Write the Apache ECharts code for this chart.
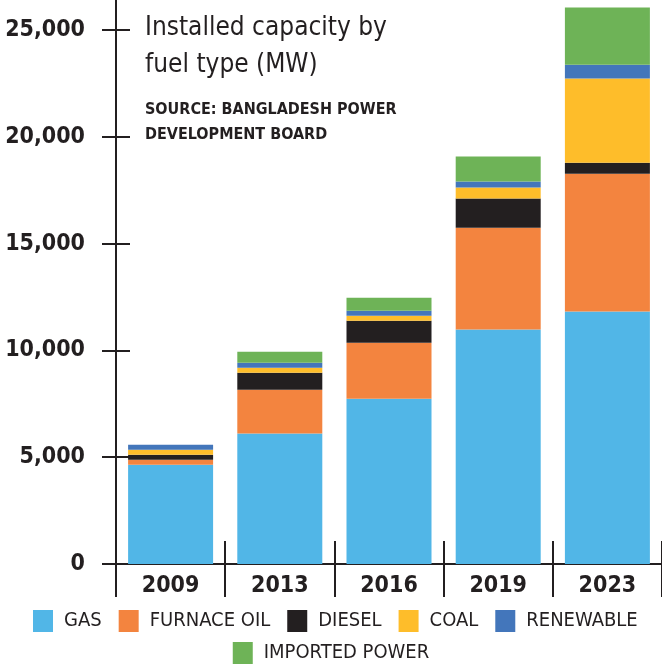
<!DOCTYPE html>
<html>
<head>
<meta charset="utf-8">
<script src="https://cdn.jsdelivr.net/npm/echarts@6/dist/echarts.min.js"></script>
<style>
  html, body { margin: 0; padding: 0; background: #fff; }
  #chart { width: 662px; height: 669px; }
</style>
</head>
<body>
<div id="chart"></div>
<script>
// installed capacity by fuel type, MW
const years = ['2009', '2013', '2016', '2019', '2023'];
const gas = [4640, 6110, 7730, 10980, 11820];
const furnaceOil = [235, 2050, 2625, 4765, 6450];
const diesel = [235, 795, 1030, 1360, 515];
const coal = [235, 235, 235, 515, 3935];
const renewable = [235, 235, 235, 280, 655];
const imported = [0, 515, 610, 1170, 2670];
const yTicks = [0, 5000, 10000, 15000, 20000, 25000];

// no narrow Liberation here, condensed DejaVu is the closest thing
const FONT = "'DejaVu Sans Condensed', 'Liberation Sans Narrow', 'Liberation Sans', sans-serif";
const INK = '#231f20';

const fuels = [
  { name: 'GAS', data: gas, color: '#51b6e7' },
  { name: 'FURNACE OIL', data: furnaceOil, color: '#f3843f' },
  { name: 'DIESEL', data: diesel, color: '#231f20' },
  { name: 'COAL', data: coal, color: '#febd2a' },
  { name: 'RENEWABLE', data: renewable, color: '#4376bb' },
  { name: 'IMPORTED POWER', data: imported, color: '#6eb357' }
];

const chart = echarts.init(document.getElementById('chart'));

const legendBase = {
  icon: 'rect',
  itemWidth: 20,
  itemHeight: 22,
  itemGap: 17,
  padding: 0,
  selectedMode: false,
  textStyle: { fontFamily: FONT, fontSize: 20, color: INK, padding: [0, 0, 0, 6] }
};

const option = {
  animation: false,
  backgroundColor: '#fff',
  title: [
    {
      text: 'Installed capacity by\nfuel type (MW)',
      left: 145, top: 10, padding: 0,
      textStyle: { fontFamily: FONT, fontSize: 26, fontWeight: 'normal', color: INK, lineHeight: 37 }
    },
    {
      text: 'SOURCE: BANGLADESH POWER\nDEVELOPMENT BOARD',
      left: 145, top: 97, padding: 0,
      textStyle: { fontFamily: FONT, fontSize: 16, fontWeight: 'bold', color: INK, lineHeight: 25 }
    }
  ],
  // two legends so the second row sits centred on its own
  legend: [
    Object.assign({}, legendBase, { left: 33, top: 610, data: fuels.slice(0, 5).map(f => f.name) }),
    Object.assign({}, legendBase, { left: 'center', top: 642, data: [fuels[5].name] })
  ],
  grid: { left: 116, right: 0, top: 0, bottom: 105, outerBoundsMode: 'none' },
  xAxis: [
    {
      type: 'category',
      data: years,
      axisLine: { lineStyle: { color: INK, width: 2 } },
      axisTick: { show: true, length: 33, lineStyle: { color: INK, width: 2 } },
      axisLabel: { fontFamily: FONT, fontSize: 23, fontWeight: 'bold', color: INK, margin: 11 }
    },
    {
      // upper half of the separators
      type: 'category',
      data: years,
      position: 'bottom',
      axisLine: { show: false },
      axisTick: { show: true, inside: true, length: 23, lineStyle: { color: INK, width: 2 } },
      axisLabel: { show: false }
    }
  ],
  yAxis: [
    {
      type: 'value',
      min: 0,
      max: 26400,
      splitLine: { show: false },
      axisLine: { show: true, lineStyle: { color: INK, width: 2 } },
      axisTick: { show: true, length: 14, customValues: yTicks, lineStyle: { color: INK, width: 2 } },
      axisLabel: {
        customValues: yTicks,
        fontFamily: FONT, fontSize: 23, fontWeight: 'bold', color: INK, margin: 31,
        formatter: v => v.toLocaleString('en-US')
      }
    },
    {
      // inner half of the crossing ticks
      type: 'value',
      min: 0,
      max: 26400,
      position: 'left',
      splitLine: { show: false },
      axisLine: { show: false },
      axisTick: { show: true, inside: true, length: 14, customValues: yTicks, lineStyle: { color: INK, width: 2 } },
      axisLabel: { show: false }
    }
  ],
  series: fuels.map(f => ({
    name: f.name,
    type: 'bar',
    stack: 'total',
    barWidth: 85,
    data: f.data,
    itemStyle: { color: f.color },
    emphasis: { disabled: true }
  }))
};

chart.setOption(option);
</script>
</body>
</html>
